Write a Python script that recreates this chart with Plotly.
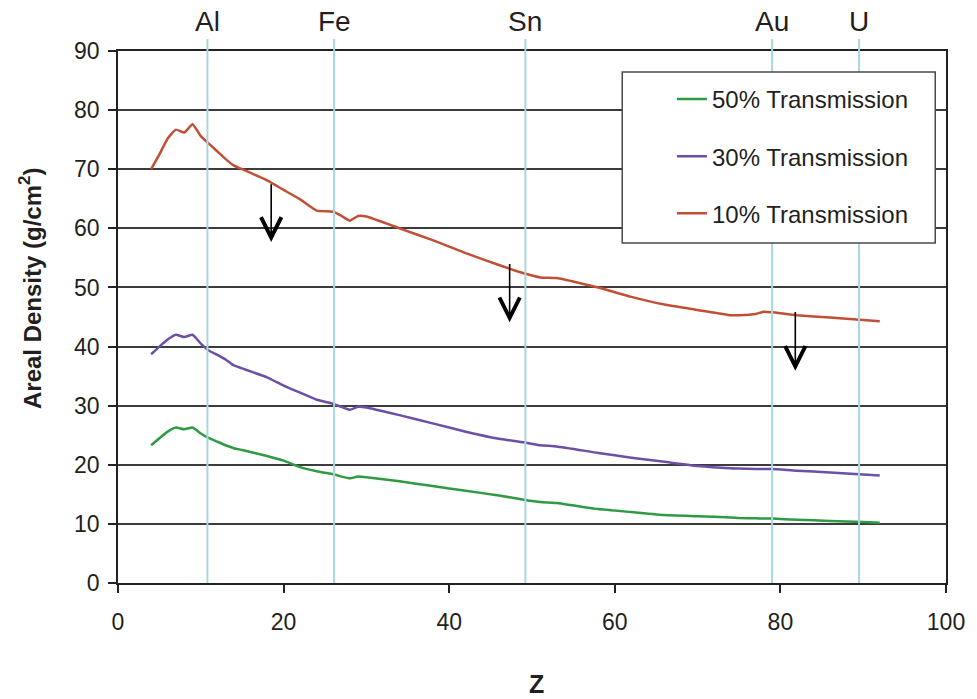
import plotly.graph_objects as go

# ---------------- data ----------------
z_values = [4, 5, 6, 7, 8, 9, 10, 11, 12, 13, 14, 15, 18, 20, 22, 24, 26, 27, 28, 29, 30,
            34, 38, 42, 46, 49, 51, 53, 58, 62, 66, 70, 74, 75, 77, 78, 79, 82, 86, 90, 92]

trans_50 = [23.3, 24.5, 25.6, 26.3, 26.0, 26.3, 25.3, 24.5, 23.9, 23.3, 22.8, 22.5, 21.5, 20.7,
            19.6, 18.9, 18.4, 18.0, 17.7, 18.0, 17.9, 17.2, 16.4, 15.6, 14.8, 14.1, 13.7, 13.55,
            12.5, 12.0, 11.5, 11.3, 11.1, 11.0, 10.95, 10.9, 10.9, 10.7, 10.5, 10.3, 10.2]

trans_30 = [38.7, 40.0, 41.2, 42.0, 41.6, 42.0, 40.5, 39.3, 38.6, 37.8, 36.8, 36.3, 34.8, 33.4,
            32.2, 31.0, 30.3, 29.8, 29.3, 29.8, 29.7, 28.4, 27.0, 25.6, 24.4, 23.8, 23.3, 23.1,
            22.0, 21.2, 20.5, 19.8, 19.4, 19.35, 19.3, 19.3, 19.3, 19.0, 18.7, 18.35, 18.2]

trans_10 = [70.0, 72.5, 75.2, 76.7, 76.2, 77.6, 75.6, 74.3, 73.0, 71.7, 70.6, 70.0, 68.1, 66.5,
            64.9, 63.0, 62.8, 62.1, 61.3, 62.1, 62.0, 60.0, 58.0, 55.8, 53.8, 52.4, 51.7, 51.6,
            50.0, 48.4, 47.1, 46.2, 45.3, 45.3, 45.5, 45.9, 45.8, 45.3, 44.9, 44.5, 44.3]

series_names = ["50% Transmission", "30% Transmission", "10% Transmission"]
series_colors = ["#2f9a44", "#6c4fa6", "#c14f36"]

element_names = ["Al", "Fe", "Sn", "Au", "U"]
element_z = [10.8, 26.1, 49.2, 79.0, 89.5]

# arrows: x position, tail value, tip value
arrow_x = [18.5, 47.3, 81.8]
arrow_from = [67.7, 54.2, 46.1]
arrow_to = [57.7, 44.1, 35.9]

x_ticks = [0, 20, 40, 60, 80, 100]
y_ticks = [0, 10, 20, 30, 40, 50, 60, 70, 80, 90]

# ---------------- figure ----------------
FONT = "Liberation Sans, Arial, sans-serif"
TXT = "#231f20"

fig = go.Figure()
for name, vals, col in zip(series_names, [trans_50, trans_30, trans_10], series_colors):
    fig.add_trace(go.Scatter(
        x=z_values, y=vals, name=name, mode="lines",
        line=dict(color=col, width=2.5, shape="spline", smoothing=0.4),
        legendgroup=name,
    ))

shapes = []
annotations = []
for nm, zx in zip(element_names, element_z):
    shapes.append(dict(type="line", xref="x", yref="paper", x0=zx, x1=zx, y0=0, y1=1.0226,
                       line=dict(color="#a9d6de", width=2), layer="above"))
    annotations.append(dict(text=nm, x=zx, xref="x", y=1.056, yref="paper",
                            showarrow=False, xanchor="center", yanchor="middle",
                            font=dict(family=FONT, size=28, color=TXT)))

# legend box (opaque)
shapes.append(dict(type="rect", xref="paper", yref="paper",
                   x0=0.609, x1=0.987, y0=0.639, y1=0.9605,
                   fillcolor="white", line=dict(color="#4a4a4a", width=1.5), layer="above"))

for ax_, a0, a1 in zip(arrow_x, arrow_from, arrow_to):
    annotations.append(dict(x=ax_, y=a1, ax=ax_, ay=a0, xref="x", yref="y",
                            axref="x", ayref="y", text="", showarrow=True,
                            arrowhead=5, arrowsize=2.5, arrowwidth=1.6, arrowcolor="black",
                            standoff=0))

annotations.append(dict(text="<b>Areal Density (g/cm<sup>2</sup>)</b>", textangle=-90,
                        x=-0.106, xref="paper", y=0.553, yref="paper", showarrow=False,
                        xanchor="center", yanchor="middle",
                        font=dict(family=FONT, size=24, color=TXT)))
annotations.append(dict(text="<b>Z</b>", x=0.506, xref="paper", y=-0.19, yref="paper",
                        showarrow=False, xanchor="center", yanchor="middle",
                        font=dict(family=FONT, size=25, color=TXT)))

fig.update_layout(
    width=977, height=699,
    margin=dict(l=118, r=25, t=51, b=116),
    paper_bgcolor="white", plot_bgcolor="white",
    font=dict(family=FONT, color=TXT),
    shapes=shapes, annotations=annotations,
    showlegend=True,
    legend=dict(x=0.669, y=0.9514, xanchor="left", yanchor="top",
                bgcolor="rgba(0,0,0,0)", borderwidth=0,
                font=dict(family=FONT, size=24, color=TXT),
                tracegroupgap=23, traceorder="grouped"),
)
fig.update_xaxes(range=[0, 100], tickvals=x_ticks, showgrid=False, zeroline=False,
                 showline=True, linecolor="#222", linewidth=1.5, mirror=True,
                 ticks="outside", ticklen=8, tickcolor="#222", tickwidth=1.5,
                 ticklabelstandoff=10,
                 tickfont=dict(family=FONT, size=23, color=TXT))
fig.update_yaxes(range=[0, 90], tickvals=y_ticks, showgrid=True, gridcolor="#3c3c3c",
                 gridwidth=1.5, zeroline=False,
                 showline=True, linecolor="#222", linewidth=1.5, mirror=True,
                 ticks="outside", ticklen=8, tickcolor="#222", tickwidth=1.5,
                 ticklabelstandoff=4,
                 tickfont=dict(family=FONT, size=23, color=TXT))

fig.write_html("out.html", config={"displayModeBar": False},
               post_script="document.body.style.margin='0px';document.body.style.padding='0px';")
